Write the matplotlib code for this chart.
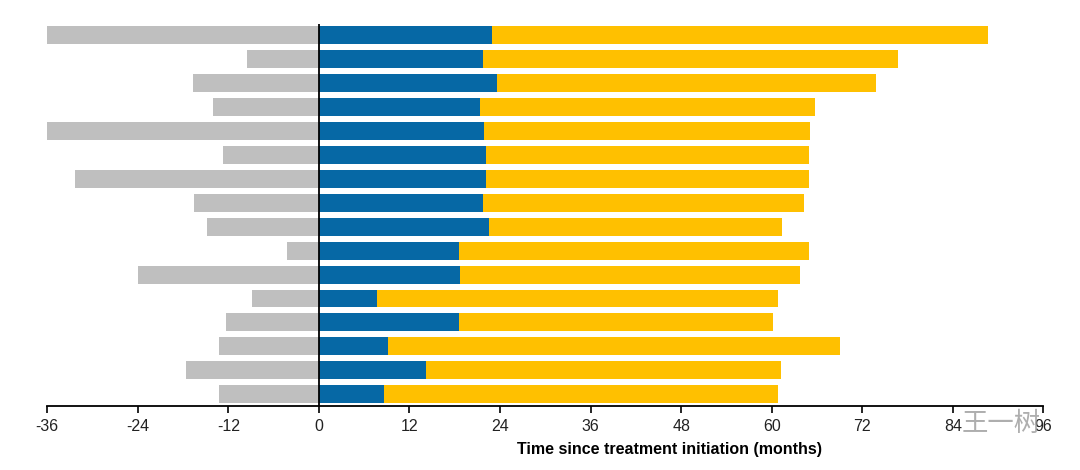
import matplotlib.pyplot as plt
import numpy as np

plt.rcParams['font.family'] = ['Liberation Sans', 'DejaVu Sans']

# one row per patient, top to bottom (months)
before_treatment = [-36.0, -9.5, -16.7, -14.0, -36.0, -12.7, -32.3, -16.6,
                    -14.8, -4.2, -24.0, -8.8, -12.3, -13.2, -17.6, -13.2]
first_phase_end = [23.0, 21.8, 23.6, 21.3, 21.9, 22.1, 22.2, 21.8,
                   22.5, 18.5, 18.7, 7.7, 18.5, 9.1, 14.2, 8.6]
followup_end = [88.6, 76.8, 73.8, 65.7, 65.1, 64.9, 64.9, 64.3,
                61.3, 65.0, 63.7, 60.8, 60.2, 69.1, 61.2, 60.9]
xticks = [-36, -24, -12, 0, 12, 24, 36, 48, 60, 72, 84, 96]

gray = '#BFBFBF'
blue = '#0668A5'
yellow = '#FFC000'

fig = plt.figure(figsize=(10.8, 4.7), dpi=100)
ax = fig.add_axes([0.0437, 0.136, 0.9224, 0.814])

y = np.arange(len(before_treatment))
first = np.array(first_phase_end)
second = np.array(followup_end) - first
h = 0.75

ax.barh(y, before_treatment, height=h, color=gray)
ax.barh(y, first, height=h, color=blue)
ax.barh(y, second, left=first, height=h, color=yellow)

ax.axvline(0, color='black', lw=1.3)

ax.set_xlim(-36, 96)
ax.set_ylim(len(y) - 0.5, -0.5)
ax.set_xticks(xticks)
ax.set_xticklabels([str(t) for t in xticks], fontsize=11.5, color='#222222')
ax.set_yticks([])
ax.tick_params(axis='x', direction='out', length=5, width=1.2, pad=4)

for s in ['top', 'right', 'left']:
    ax.spines[s].set_visible(False)
ax.spines['bottom'].set_linewidth(1.3)

ax.set_xlabel('Time since treatment initiation (months)', fontsize=11.5,
              fontweight='bold')
ax.xaxis.set_label_coords(0.625, -0.095)

# watermark
fig.text(0.927, 0.098, '王一树', fontsize=19, color='#9a9a9a', alpha=0.8,
         family=['Noto Sans CJK SC', 'DejaVu Sans'], ha='center', va='center')

plt.savefig('out.png', dpi=100, facecolor='white')
plt.close()
